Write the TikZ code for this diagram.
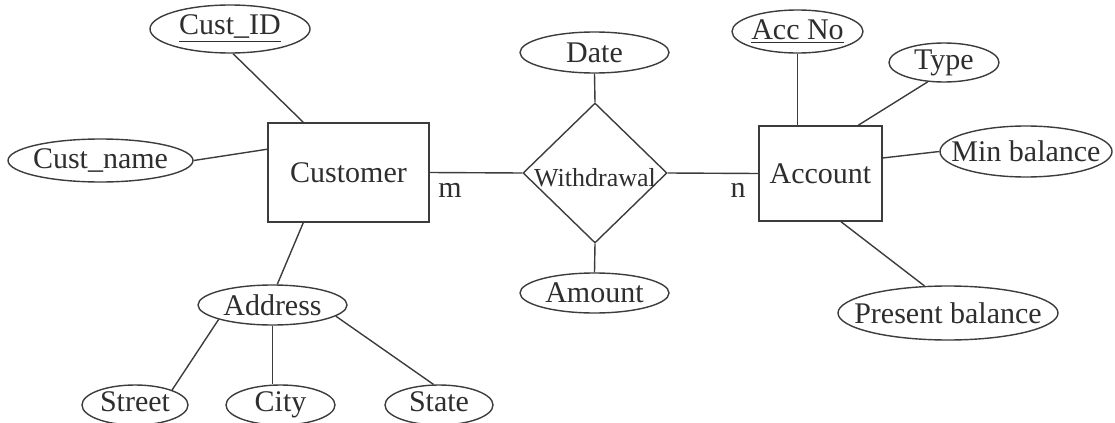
\documentclass[tikz,border=0pt]{standalone}
\usepackage{fontspec}
\setmainfont{Liberation Serif}
\usetikzlibrary{shapes.geometric}
\definecolor{ln}{HTML}{3C3C3C}
\definecolor{tx}{HTML}{2E2E2E}
\newcommand{\zw}[1]{\makebox[0pt]{#1}}
\begin{document}
\begin{tikzpicture}[x=0.5pt,y=-0.5pt,
  every node/.style={text=tx,font=\fontsize{15}{18}\selectfont},
  attr/.style={ellipse,draw=ln,line width=0.7pt,inner sep=0pt},
  entity/.style={rectangle,draw=ln,line width=0.7pt,inner sep=0pt},
  rel/.style={diamond,draw=ln,line width=0.7pt,inner sep=0pt,font=\fontsize{13}{15}\selectfont},
  conn/.style={draw=ln,line width=0.7pt}]
\path[use as bounding box] (0,0) rectangle (1115,423);
% entities
\node[entity,minimum width=80.5pt,minimum height=49.5pt] (cust) at (348.5,172.5) {Customer};
\node[entity,minimum width=61.5pt,minimum height=47.5pt] (acc) at (820.5,173.5) {Account};
\node[rel,minimum width=72pt,minimum height=70pt] (wd) at (595,173) {\zw{\raisebox{-2.5pt}[\height][\depth]{Withdrawal}}};
% attributes
\node[attr,minimum width=80pt,minimum height=24pt] (cid) at (230,29) {\zw{\underline{Cust\_ID}}};
\node[attr,minimum width=92.5pt,minimum height=21.5pt] (cname) at (100.5,160.5) {\zw{Cust\_name}};
\node[attr,minimum width=74.5pt,minimum height=20pt] (addr) at (272.5,305) {\zw{Address}};
\node[attr,minimum width=53pt,minimum height=20pt] (street) at (135,405) {\zw{Street\vphantom{y}}};
\node[attr,minimum width=54.5pt,minimum height=20pt] (city) at (280.5,405) {\zw{City}};
\node[attr,minimum width=54pt,minimum height=20pt] (state) at (439,405) {\zw{State\vphantom{y}}};
\node[attr,minimum width=74.5pt,minimum height=20.5pt] (date) at (594.5,52.5) {\zw{Date}};
\node[attr,minimum width=74.5pt,minimum height=20pt] (amt) at (594.5,293) {\zw{Amount}};
\node[attr,minimum width=65.5pt,minimum height=21.5pt] (accno) at (797.5,31.5) {\zw{\underline{Acc No}}};
\node[attr,minimum width=55pt,minimum height=19.5pt] (type) at (944,62.5) {\zw{Type}};
\node[attr,minimum width=86pt,minimum height=25.5pt] (mb) at (1026,151.5) {\zw{Min balance}};
\node[attr,minimum width=110pt,minimum height=27pt] (pb) at (948,313) {\zw{Present balance}};
% cardinalities
\node (m) at (450,190) {m};
\node (n) at (738,190) {n};
% connectors
\draw[conn] (cid.-83) -- (cust.132.6);
\draw[conn] (cname.east) -- (cust.164);
\draw[conn] (cust.228.7) -- (addr.77);
\draw[conn] (cust.east) -- (wd.west);
\draw[conn] (wd.east) -- (acc.west);
\draw[conn] (date.south) -- (wd.north);
\draw[conn] (wd.south) -- (amt.north);
\draw[conn] (accno.south) -- (accno.south |- acc.north);
\draw[conn] (type.-130) -- (acc.52);
\draw[conn] (acc.14) -- (mb.west);
\draw[conn] (acc.-67.7) -- (pb.131.6);
\draw[conn] (addr.195) -- (street.22);
\draw[conn] (addr.south) -- (addr.south |- city.north);
\draw[conn] (addr.-10) -- (state.105);
\end{tikzpicture}
\end{document}
